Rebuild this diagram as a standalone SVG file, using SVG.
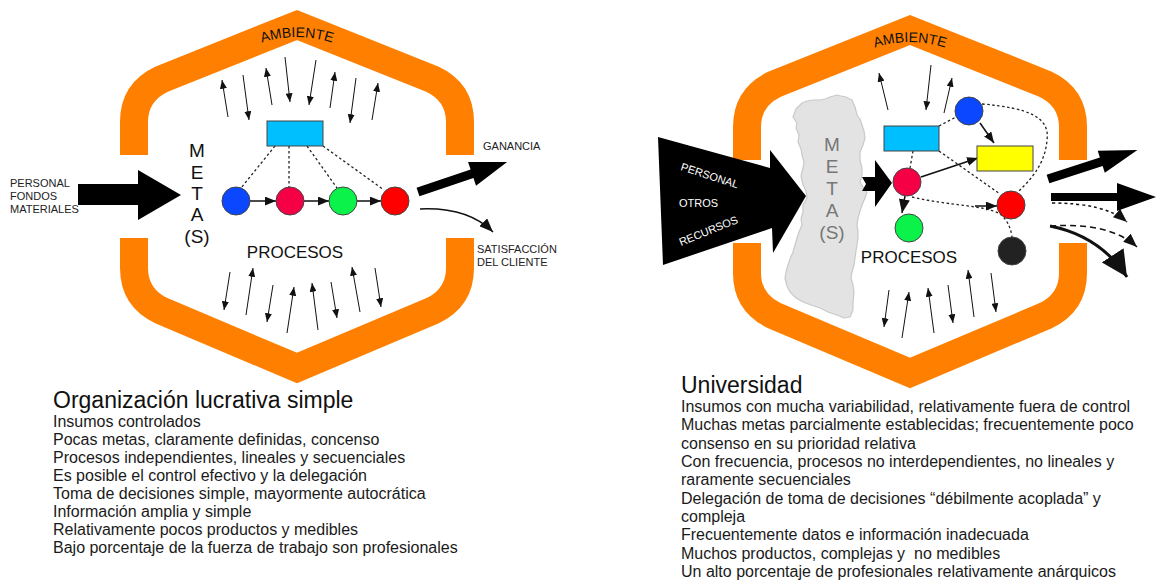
<svg xmlns="http://www.w3.org/2000/svg" width="1157" height="583" viewBox="0 0 1157 583">
  <style>
    text { font-family: "Liberation Sans", Arial, sans-serif; fill: #111; }
    .band { fill: none; stroke: #ff8000; stroke-width: 28; stroke-linejoin: miter; }
    .amb { font-size: 14px; }
    .lbl { font-size: 11px; fill: #222; }
    .metas { font-size: 19px; text-anchor: middle; }
    .proc { font-size: 17px; text-anchor: middle; }
    .title { font-size: 23px; }
    .body { font-size: 16px; fill: #1a1a1a; white-space: pre; }
    .thin { stroke: #111; stroke-width: 1; fill: none; marker-end: url(#ah); }
    .link { stroke: #111; stroke-width: 1.5; fill: none; }
    .dot { stroke: #222; stroke-width: 1.3; fill: none; stroke-dasharray: 2.5 2.5; }
    .node { stroke: #444; stroke-width: 1; }
  </style>
  <defs>
    <marker id="ah" viewBox="0 0 10 8" refX="10" refY="4" markerWidth="9" markerHeight="7" orient="auto" markerUnits="userSpaceOnUse">
      <path d="M0,0 L10,4 L0,8 z" fill="#111"/>
    </marker>
    <marker id="ahm" viewBox="0 0 10 8" refX="10" refY="4" markerWidth="11" markerHeight="9" orient="auto" markerUnits="userSpaceOnUse">
      <path d="M0,0 L10,4 L0,8 z" fill="#111"/>
    </marker>
    <marker id="ahl" viewBox="0 0 10 8" refX="10" refY="4" markerWidth="14" markerHeight="11" orient="auto" markerUnits="userSpaceOnUse">
      <path d="M0,0 L10,4 L0,8 z" fill="#111"/>
    </marker>
    <marker id="ahx" viewBox="0 0 10 10" refX="10" refY="5" markerWidth="26" markerHeight="26" orient="auto" markerUnits="userSpaceOnUse">
      <path d="M0,0 L10,5 L0,10 z" fill="#111"/>
    </marker>
    <path id="ambL" d="M240,52 Q297,22 354,52"/>
    <path id="ambR" d="M853,57 Q910,27 967,57"/>
  </defs>

  <!-- ============ Simple for-profit organisation ============ -->
  <g id="ring-left">
    <path class="band" d="M134,155 L134,122 Q134,92 162,79 L297,25 L432,79 Q460,92 460,122 L460,155"/>
    <path class="band" d="M134,238 L134,268 Q134,298 162,311 L297,368 L432,311 Q460,298 460,268 L460,238"/>
    <text class="amb"><textPath href="#ambL" startOffset="50%" text-anchor="middle">AMBIENTE</textPath></text>
  </g>

  <g id="env-arrows-left">
    <path class="thin" d="M228,117 L222,80"/>
    <path class="thin" d="M243,75 L249,120"/>
    <path class="thin" d="M272,105 L266,68"/>
    <path class="thin" d="M285,57 L290,102"/>
    <path class="thin" d="M316,60 L309,105"/>
    <path class="thin" d="M330,108 L335,72"/>
    <path class="thin" d="M356,78 L350,123"/>
    <path class="thin" d="M372,120 L378,83"/>
    <path class="thin" d="M230,272 L224,310"/>
    <path class="thin" d="M246,315 L253,268"/>
    <path class="thin" d="M273,285 L267,322"/>
    <path class="thin" d="M287,333 L294,287"/>
    <path class="thin" d="M318,330 L312,283"/>
    <path class="thin" d="M331,282 L337,318"/>
    <path class="thin" d="M360,312 L352,267"/>
    <path class="thin" d="M375,268 L381,307"/>
  </g>

  <g id="inputs-left">
    <polygon points="78,184 138,184 138,170 181,195 138,220 138,205 78,205" fill="#000"/>
    <text class="lbl" x="10" y="187">PERSONAL</text>
    <text class="lbl" x="10" y="200">FONDOS</text>
    <text class="lbl" x="10" y="213">MATERIALES</text>
  </g>

  <g id="metas-left">
    <text class="metas" x="197" y="157">M</text>
    <text class="metas" x="197" y="179">E</text>
    <text class="metas" x="197" y="200">T</text>
    <text class="metas" x="197" y="221">A</text>
    <text class="metas" x="197" y="243">(S)</text>
  </g>

  <g id="links-left">
    <path class="dot" d="M275,146 L241,188"/>
    <path class="dot" d="M289,146 L289,187"/>
    <path class="dot" d="M307,146 L337,188"/>
    <path class="dot" d="M323,146 L384,190"/>
    <path class="link" d="M250,201 L276,201" marker-end="url(#ahm)"/>
    <path class="link" d="M304,201 L329,201" marker-end="url(#ahm)"/>
    <path class="link" d="M357,201 L381,201" marker-end="url(#ahm)"/>
  </g>

  <g id="control-left"><rect class="node" x="267" y="121" width="56" height="25" fill="#00bfff"/></g>
  <g id="step1-left"><circle class="node" cx="236" cy="201" r="14" fill="#0a47ff"/></g>
  <g id="step2-left"><circle class="node" cx="290" cy="201" r="14" fill="#f50045"/></g>
  <g id="step3-left"><circle class="node" cx="343" cy="201" r="14" fill="#0bf24a"/></g>
  <g id="step4-left"><circle class="node" cx="395" cy="201" r="14" fill="#ff0000"/></g>

  <text class="proc" x="295" y="258">PROCESOS</text>

  <g id="outputs-left">
    <polygon transform="translate(418,192) rotate(-18.6)" points="0,-4.5 57,-4.5 57,-12.5 94,0 57,12.5 57,4.5 0,4.5" fill="#000"/>
    <path class="link" d="M420,209 Q468,207 493,232" marker-end="url(#ahl)"/>
    <text class="lbl" x="483" y="150">GANANCIA</text>
    <text class="lbl" x="477" y="253">SATISFACCIÓN</text>
    <text class="lbl" x="477" y="266">DEL CLIENTE</text>
  </g>

  <g id="text-left">
    <text class="title" x="53" y="408">Organización lucrativa simple</text>
    <text class="body" x="53" y="427">Insumos controlados</text>
    <text class="body" x="53" y="445">Pocas metas, claramente definidas, concenso</text>
    <text class="body" x="53" y="463">Procesos independientes, lineales y secuenciales</text>
    <text class="body" x="53" y="481">Es posible el control efectivo y la delegación</text>
    <text class="body" x="53" y="499">Toma de decisiones simple, mayormente autocrática</text>
    <text class="body" x="53" y="517">Información amplia y simple</text>
    <text class="body" x="53" y="535">Relativamente pocos productos y medibles</text>
    <text class="body" x="53" y="553">Bajo porcentaje de la fuerza de trabajo son profesionales</text>
  </g>

  <!-- ============ University ============ -->
  <g id="ring-right">
    <g transform="translate(613,5)">
      <path class="band" d="M134,155 L134,122 Q134,92 162,79 L297,25 L432,79 Q460,92 460,122 L460,155"/>
      <path class="band" d="M134,238 L134,268 Q134,298 162,311 L297,368 L432,311 Q460,298 460,268 L460,238"/>
    </g>
    <text class="amb"><textPath href="#ambR" startOffset="50%" text-anchor="middle">AMBIENTE</textPath></text>
  </g>

  <g id="env-arrows-right">
    <path class="thin" d="M888,110 L879,73"/>
    <path class="thin" d="M931,65 L926,110"/>
    <path class="thin" d="M944,113 L952,78"/>
    <path class="thin" d="M889,290 L884,327"/>
    <path class="thin" d="M902,338 L909,292"/>
    <path class="thin" d="M934,333 L928,288"/>
    <path class="thin" d="M948,285 L953,323"/>
    <path class="thin" d="M974,317 L968,270"/>
    <path class="thin" d="M991,273 L996,312"/>
  </g>

  <g id="inputs-right">
    <polygon points="658,137 770,168 770,150 806,196 773,253 772,228 663,265" fill="#000"/>
    <text class="lbl" x="680" y="170" style="fill:#fff" transform="rotate(18 680 170)">PERSONAL</text>
    <text class="lbl" x="679" y="207" style="fill:#fff">OTROS</text>
    <text class="lbl" x="681" y="246" style="fill:#fff" transform="rotate(-22 681 246)">RECURSOS</text>
  </g>

  <g id="metas-right">
    <path d="M802,103 L796,109 L793,117 L797,123 L796,128 L799,135 L798,142 L801,149 L802,155 L804,162 L803,168 L801,176 L803,185 L806,191 L807,198 L803,205 L803,212 L801,219 L802,225 L799,232 L797,238 L795,245 L793,252 L790,259 L788,265 L786,272 L785,278 L787,286 L790,292 L796,298 L803,302 L811,305 L820,308 L828,312 L837,315 L844,318 L850,317 L853,310 L853,302 L854,293 L853,285 L851,278 L852,272 L854,265 L855,258 L856,251 L857,245 L858,238 L858,232 L857,225 L858,218 L860,211 L862,205 L865,198 L867,192 L863,187 L860,182 L862,175 L862,168 L860,160 L860,152 L863,145 L865,138 L864,131 L862,125 L860,119 L857,115 L855,107 L852,100 L846,97 L841,96 L837,95 L830,97 L825,99 L820,100 L813,100 L807,101 Z" fill="#e3e3e3" stroke="#c9c9c9" stroke-width="1.2" stroke-linejoin="round"/>
    <text class="metas" x="832" y="151" style="fill:#777">M</text>
    <text class="metas" x="832" y="173" style="fill:#777">E</text>
    <text class="metas" x="832" y="195" style="fill:#777">T</text>
    <text class="metas" x="832" y="217" style="fill:#777">A</text>
    <text class="metas" x="832" y="239" style="fill:#777">(S)</text>
  </g>

  <g id="links-right">
    <polygon points="862,177 875,177 875,160 892,183 875,207 875,191 862,191 866,184" fill="#000"/>
    <path class="dot" d="M939,126 L956,117"/>
    <path class="dot" d="M913,151 L910,168"/>
    <path class="dot" d="M939,151 L1000,194"/>
    <path class="dot" d="M982,104 C1030,108 1050,118 1047,140 C1045,165 1030,180 1018,192"/>
    <path class="dot" d="M912,197 C950,206 985,205 1000,214 Q1010,222 1012,237"/>
    <path class="link" d="M980,123 L994,143" marker-end="url(#ahm)"/>
    <path class="link" d="M921,177 L978,158" marker-end="url(#ahm)"/>
    <path class="link" d="M905,196 L902,213" marker-end="url(#ahl)"/>
    <path class="link" d="M975,206 L997,206" marker-end="url(#ahm)"/>
  </g>

  <g id="control-right"><rect class="node" x="884" y="126" width="55" height="25" fill="#00bfff"/></g>
  <g id="plan-right"><rect class="node" x="977" y="146" width="56" height="25" fill="#ffff00"/></g>
  <g id="unit-blue-right"><circle class="node" cx="969" cy="111" r="14" fill="#0a47ff"/></g>
  <g id="unit-crimson-right"><circle class="node" cx="907" cy="182" r="14" fill="#f50045"/></g>
  <g id="unit-green-right"><circle class="node" cx="909" cy="228" r="14" fill="#0bf24a"/></g>
  <g id="unit-red-right"><circle class="node" cx="1011" cy="205" r="14" fill="#ff0000"/></g>
  <g id="unit-black-right"><circle class="node" cx="1012" cy="251" r="14" fill="#222"/></g>

  <text class="proc" x="909" y="263">PROCESOS</text>

  <g id="outputs-right">
    <polygon transform="translate(1048,179) rotate(-18)" points="0,-4.5 56,-4.5 56,-11.5 94,0 56,11.5 56,4.5 0,4.5" fill="#000"/>
    <polygon points="1051,193 1117,193 1117,183 1156,197 1117,211 1117,201 1051,201" fill="#000"/>
    <path d="M1052,203 Q1105,203 1127,222" fill="none" stroke="#111" stroke-width="1.5" stroke-dasharray="3 3" marker-end="url(#ahl)"/>
    <path d="M1050,226 Q1110,222 1137,247" fill="none" stroke="#111" stroke-width="1.5" stroke-dasharray="6 4" marker-end="url(#ahl)"/>
    <path d="M1050,226 Q1100,236 1127,277" fill="none" stroke="#111" stroke-width="3" marker-end="url(#ahx)"/>
  </g>

  <g id="text-right">
    <text class="title" x="681" y="393">Universidad</text>
    <text class="body" x="681" y="412">Insumos con mucha variabilidad, relativamente fuera de control</text>
    <text class="body" x="681" y="430">Muchas metas parcialmente establecidas; frecuentemente poco</text>
    <text class="body" x="681" y="449">consenso en su prioridad relativa</text>
    <text class="body" x="681" y="467">Con frecuencia, procesos no interdependientes, no lineales y</text>
    <text class="body" x="681" y="485">raramente secuenciales</text>
    <text class="body" x="681" y="504">Delegación de toma de decisiones “débilmente acoplada” y</text>
    <text class="body" x="681" y="522">compleja</text>
    <text class="body" x="681" y="540">Frecuentemente datos e información inadecuada</text>
    <text class="body" x="681" y="559">Muchos productos, complejas y  no medibles</text>
    <text class="body" x="681" y="577">Un alto porcentaje de profesionales relativamente anárquicos</text>
  </g>
</svg>
